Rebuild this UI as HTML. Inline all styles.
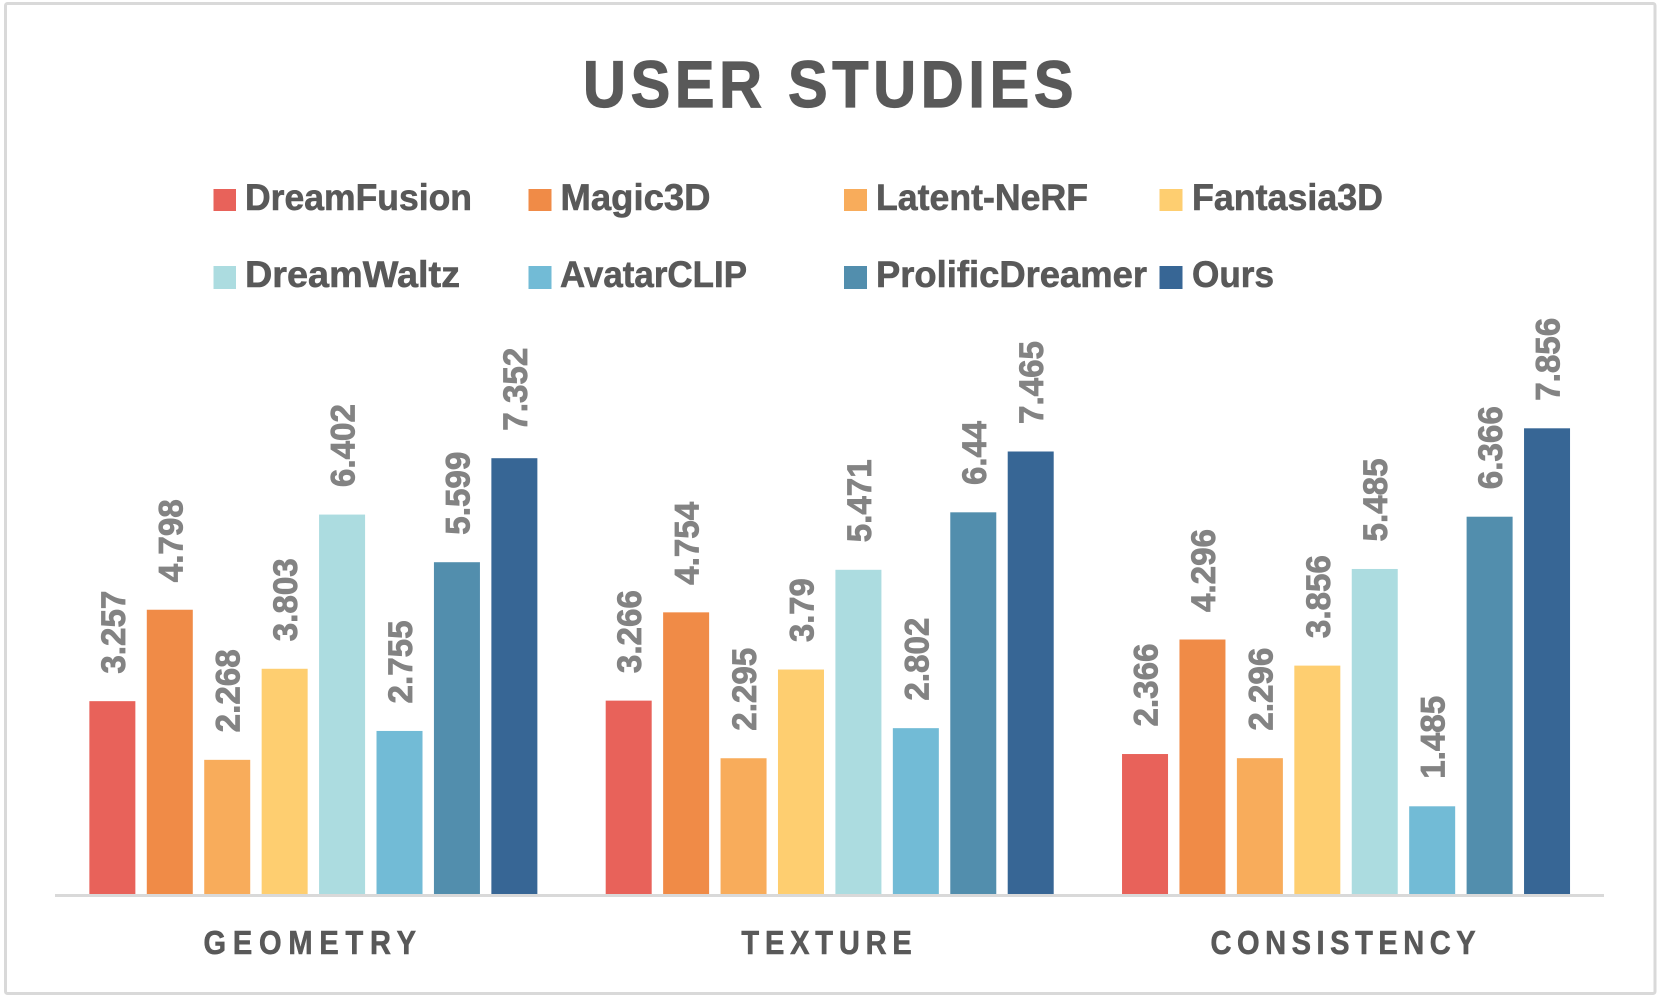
<!DOCTYPE html>
<html lang="en">
<head>
<meta charset="utf-8">
<title>User Studies</title>
<style>
  html, body { margin: 0; padding: 0; background: #fff; }
  svg { display: block; }
  text { font-family: "Liberation Sans", Arial, sans-serif; font-weight: 700; }
  .legend-text { font-size: 37px; fill: #595959; stroke: #595959; stroke-width: 0.6px; }
  .data-label { font-size: 34px; fill: #838383; stroke: #838383; stroke-width: 0.8px; }
  .cat-label { font-size: 33px; fill: #595959; stroke: #595959; stroke-width: 0.6px; }
  .title-text { font-size: 66px; fill: #595959; stroke: #595959; stroke-width: 1.2px; }
</style>
</head>
<body>
<svg id="chart" xmlns="http://www.w3.org/2000/svg" width="1663" height="1003" viewBox="0 0 1663 1003">
  <rect x="5.5" y="3.5" width="1649.5" height="990" rx="2" fill="#ffffff" stroke="#d9d9d9" stroke-width="3"/>
  <text class="title-text" transform="translate(583 107) scale(0.9 1)" textLength="545" lengthAdjust="spacing">USER STUDIES</text>

  <g>
    <g>
      <rect x="213.5" y="189" width="22.5" height="22" fill="#e8625a"/>
      <text class="legend-text" x="245" y="210" textLength="227" lengthAdjust="spacingAndGlyphs">DreamFusion</text>
    </g>
    <g>
      <rect x="528.5" y="189" width="23" height="22" fill="#f08b47"/>
      <text class="legend-text" x="560.5" y="210" textLength="150" lengthAdjust="spacingAndGlyphs">Magic3D</text>
    </g>
    <g>
      <rect x="844" y="189" width="23" height="22" fill="#f8ac5b"/>
      <text class="legend-text" x="876" y="210" textLength="212" lengthAdjust="spacingAndGlyphs">Latent-NeRF</text>
    </g>
    <g>
      <rect x="1159.5" y="189" width="23" height="22" fill="#fece70"/>
      <text class="legend-text" x="1192" y="210" textLength="191" lengthAdjust="spacingAndGlyphs">Fantasia3D</text>
    </g>
    <g>
      <rect x="213.5" y="266" width="22.5" height="23" fill="#acdce0"/>
      <text class="legend-text" x="245" y="287" textLength="215" lengthAdjust="spacingAndGlyphs">DreamWaltz</text>
    </g>
    <g>
      <rect x="528.5" y="266" width="23" height="23" fill="#72bbd6"/>
      <text class="legend-text" x="560" y="287" textLength="187" lengthAdjust="spacingAndGlyphs">AvatarCLIP</text>
    </g>
    <g>
      <rect x="844" y="266" width="23" height="23" fill="#528ead"/>
      <text class="legend-text" x="876" y="287" textLength="271" lengthAdjust="spacingAndGlyphs">ProlificDreamer</text>
    </g>
    <g>
      <rect x="1159.5" y="266" width="23" height="23" fill="#376695"/>
      <text class="legend-text" x="1192" y="287" textLength="82" lengthAdjust="spacingAndGlyphs">Ours</text>
    </g>
  </g>

  <g id="bars"></g>
  <g id="data-labels"></g>
  <rect x="55" y="894" width="1549" height="3" fill="#d9d9d9"/>
  <g id="category-labels"></g>
</svg>

<script>
const categories = ["GEOMETRY", "TEXTURE", "CONSISTENCY"];
const seriesKeys = ["dreamfusion", "magic3d", "latent-nerf", "fantasia3d", "dreamwaltz", "avatarclip", "prolificdreamer", "ours"];
const dreamFusion = [3.257, 3.266, 2.366];
const magic3D = [4.798, 4.754, 4.296];
const latentNeRF = [2.268, 2.295, 2.296];
const fantasia3D = [3.803, 3.79, 3.856];
const dreamWaltz = [6.402, 5.471, 5.485];
const avatarCLIP = [2.755, 2.802, 1.485];
const prolificDreamer = [5.599, 6.44, 6.366];
const ours = [7.352, 7.465, 7.856];

const seriesValues = [dreamFusion, magic3D, latentNeRF, fantasia3D, dreamWaltz, avatarCLIP, prolificDreamer, ours];
const seriesColors = ["#e8625a", "#f08b47", "#f8ac5b", "#fece70", "#acdce0", "#72bbd6", "#528ead", "#376695"];
const categorySpacing = [7.7, 6.6, 6.3];

const NS = "http://www.w3.org/2000/svg";
const plotLeft = 55, plotWidth = 1549, baselineY = 894, unitPx = 59.33;
const barWidth = 46, barStep = 57.43;
const labelGap = 27.5, labelShift = 12.5;

function yScale(v) { return baselineY + 0.4 - v * unitPx; }
function bandCenter(c) { return plotLeft + plotWidth * (c + 0.5) / categories.length; }
function xScale(c, s) {
  return bandCenter(c) + (s - (seriesValues.length - 1) / 2) * barStep - barWidth / 2 + 0.2;
}
function labelLength(str) {
  const periods = str.split(".").length - 1;
  return (str.length - periods) * 19.2 + periods * 6.2;
}

const barsLayer = document.getElementById("bars");
const labelsLayer = document.getElementById("data-labels");
const catLayer = document.getElementById("category-labels");

seriesValues.forEach(function (values, s) {
  values.forEach(function (v, c) {
    const x = xScale(c, s);
    const y = yScale(v);

    const bar = document.createElementNS(NS, "rect");
    bar.setAttribute("x", x);
    bar.setAttribute("y", y);
    bar.setAttribute("width", barWidth);
    bar.setAttribute("height", baselineY - y);
    bar.setAttribute("fill", seriesColors[s]);
    
    
    barsLayer.appendChild(bar);

    const str = String(v);
    const label = document.createElementNS(NS, "text");
    label.setAttribute("class", "data-label");
    label.setAttribute("transform", "translate(" + (x + barWidth / 2 + labelShift) + " " + (y - labelGap) + ") rotate(-90)");
    label.setAttribute("textLength", labelLength(str));
    label.setAttribute("lengthAdjust", "spacingAndGlyphs");
    
    
    label.textContent = str;
    labelsLayer.appendChild(label);
  });
});

categories.forEach(function (name, c) {
  const t = document.createElementNS(NS, "text");
  t.setAttribute("class", "cat-label");
  t.setAttribute("text-anchor", "middle");
  t.setAttribute("letter-spacing", categorySpacing[c]);
  t.setAttribute("transform", "translate(" + bandCenter(c) + " 954) scale(0.88 1)");
  
  
  t.textContent = name;
  catLayer.appendChild(t);
});
</script>
</body>
</html>
